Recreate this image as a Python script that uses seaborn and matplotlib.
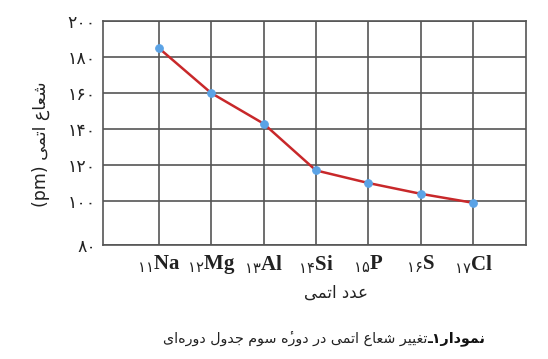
import re
import matplotlib
matplotlib.use("Agg")
import matplotlib.pyplot as plt
import seaborn as sns
import pandas as pd

# ---------------- data ----------------
elements = ["Na", "Mg", "Al", "Si", "P", "S", "Cl"]
atomic_numbers = [11, 12, 13, 14, 15, 16, 17]
atomic_number_labels = ["۱۱", "۱۲", "۱۳", "۱۴", "۱۵", "۱۶", "۱۷"]
radii_pm = [185, 160, 143, 117, 110, 104, 99]
y_ticks = [100, 120, 140, 160, 180, 200]
y_tick_labels = ["۸۰", "۱۰۰", "۱۲۰", "۱۴۰", "۱۶۰", "۱۸۰", "۲۰۰"]
y_label = "شعاع اتمی (pm)"
x_label = "عدد اتمی"
caption_bold = "نمودار۱ـ"
caption_rest = "تغییر شعاع اتمی در دورهٔ سوم جدول دوره‌ای"

# ---------------- minimal Persian shaping (no shaping engine in matplotlib) -------------
DUAL = {
    'ب': (0xFE8F, 0xFE90, 0xFE91, 0xFE92), 'ت': (0xFE95, 0xFE96, 0xFE97, 0xFE98),
    'ج': (0xFE9D, 0xFE9E, 0xFE9F, 0xFEA0), 'س': (0xFEB1, 0xFEB2, 0xFEB3, 0xFEB4),
    'ش': (0xFEB5, 0xFEB6, 0xFEB7, 0xFEB8), 'ع': (0xFEC9, 0xFECA, 0xFECB, 0xFECC),
    'غ': (0xFECD, 0xFECE, 0xFECF, 0xFED0), 'ل': (0xFEDD, 0xFEDE, 0xFEDF, 0xFEE0),
    'م': (0xFEE1, 0xFEE2, 0xFEE3, 0xFEE4), 'ن': (0xFEE5, 0xFEE6, 0xFEE7, 0xFEE8),
    'ه': (0xFEE9, 0xFEEA, 0xFEEB, 0xFEEC), 'ی': (0xFEEF, 0xFEF0, 0xFEF3, 0xFEF4),
    'ـ': (0x0640, 0x0640, 0x0640, 0x0640),
}
RIGHT = {'ا': (0xFE8D, 0xFE8E), 'د': (0xFEA9, 0xFEAA), 'ر': (0xFEAD, 0xFEAE),
         'و': (0xFEED, 0xFEEE)}
MARKS = {'\u0654'}


def shape(s):
    base = [i for i, c in enumerate(s) if c not in MARKS]
    out = list(s)
    for k, i in enumerate(base):
        c = s[i]
        if c not in DUAL and c not in RIGHT:
            continue
        prev = s[base[k - 1]] if k > 0 else None
        nxt = s[base[k + 1]] if k + 1 < len(base) else None
        jp = prev in DUAL
        jn = c in DUAL and (nxt in DUAL or nxt in RIGHT)
        if c in RIGHT:
            f = RIGHT[c][1] if jp else RIGHT[c][0]
        else:
            iso, fin, ini, med = DUAL[c]
            f = med if (jp and jn) else fin if jp else ini if jn else iso
        out[i] = chr(f)
    return ''.join(ch for ch in out if ch != '\u200c')


def vis(s):
    sh = shape(s)
    toks = re.findall(r'[0-9۰-۹A-Za-z()]+|.\u0654?', sh)
    return ''.join(reversed(toks))


# ---------------- figure ----------------
sns.set_theme(style="white")
plt.rcParams['font.family'] = ['DejaVu Sans']
plt.rcParams['mathtext.fontset'] = 'custom'
plt.rcParams['mathtext.rm'] = 'DejaVu Sans'
plt.rcParams['mathtext.it'] = 'DejaVu Sans'
plt.rcParams['mathtext.bf'] = 'DejaVu Sans'

fig = plt.figure(figsize=(5.48, 3.59), dpi=100)
ax = fig.add_axes([102.7 / 548, 1 - 245 / 359, (526 - 102.7) / 548, (245 - 21) / 359])

df = pd.DataFrame({"z": atomic_numbers, "r": radii_pm})
sns.lineplot(data=df, x="z", y="r", ax=ax, color="#c8282a", linewidth=1.8,
             marker="o", markersize=5.5, markerfacecolor="#5ba3e6",
             markeredgecolor="#5ba3e6", zorder=3)

# axis layout: the 80 line is drawn a little further below (broken scale in reference)
y_floor = 100 - 44 / 36 * 20
ax.set_ylim(y_floor, 200)
ax.set_xlim(9.93, 18.01)
ax.set_yticks([y_floor] + y_ticks)
ax.set_yticklabels(y_tick_labels, fontsize=12.5, color="#222222")
ax.set_xticks(atomic_numbers)
xt = [r"$_{\mathrm{%s}}$%s" % (n, e) for n, e in zip(atomic_number_labels, elements)]
ax.set_xticklabels(xt, fontsize=15, fontfamily="Liberation Serif",
                   fontweight="bold", color="#222222")
ax.tick_params(axis="both", length=0)
ax.tick_params(axis="y", pad=5)
ax.tick_params(axis="x", pad=6)

ax.grid(True, color="#555555", linewidth=1.2)
for sp in ax.spines.values():
    sp.set_color("#555555")
    sp.set_linewidth(1.2)
ax.set_xlabel("")
ax.set_ylabel(vis(y_label), fontsize=12.5, color="#222222")
ax.yaxis.set_label_coords(-0.124, 0.45)

fig.text(336 / 548, 1 - 293 / 359, vis(x_label), ha="center", va="center",
         fontsize=12, color="#222222")

t_rest = fig.text(163 / 548, 1 - 338 / 359, vis(caption_rest), ha="left",
                  va="center", fontsize=10.3, color="#222222")
ax.annotate(vis(caption_bold), xy=(1, 0), xycoords=t_rest, ha="left", va="bottom",
            fontsize=10.3, fontweight="bold", color="#111111", annotation_clip=False)

fig.savefig("out.png", dpi=100)
